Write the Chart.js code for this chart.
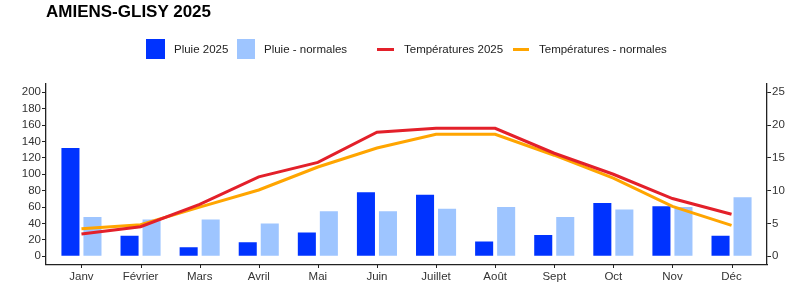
<!DOCTYPE html>
<html>
<head>
<meta charset="utf-8">
<script src="https://cdn.jsdelivr.net/npm/chart.js@4.4.1/dist/chart.umd.min.js"></script>
<style>
  html, body { margin: 0; padding: 0; background: #fff; }
  #wrap { position: relative; width: 800px; height: 286px; font-family: "Liberation Sans", Arial, sans-serif; }
  #title { position: absolute; left: 46px; top: 2px; font-size: 17px; font-weight: bold; color: #000; white-space: nowrap; }
  .lg { position: absolute; font-size: 11.5px; color: #222; white-space: nowrap; top: 42px; line-height: 14px; }
  .sw { position: absolute; }
  canvas { position: absolute; left: 0; top: 0; }
</style>
</head>
<body>
<div id="wrap">
  <canvas id="c" width="800" height="286"></canvas>
  <div id="title">AMIENS-GLISY 2025</div>
  <div class="sw" style="left:146px;top:39px;width:19px;height:20px;background:#0033FF;"></div>
  <div class="lg" style="left:174px;">Pluie 2025</div>
  <div class="sw" style="left:237px;top:39px;width:18px;height:20px;background:#9EC5FF;"></div>
  <div class="lg" style="left:264px;">Pluie - normales</div>
  <div class="sw" style="left:377px;top:47.5px;width:17px;height:3px;background:#E3202A;"></div>
  <div class="lg" style="left:404px;">Températures 2025</div>
  <div class="sw" style="left:513px;top:47.5px;width:16px;height:3px;background:#FFA500;"></div>
  <div class="lg" style="left:539px;">Températures - normales</div>
</div>
<script>
const months = ["Janv", "Février", "Mars", "Avril", "Mai", "Juin", "Juillet", "Août", "Sept", "Oct", "Nov", "Déc"];
const rain2025 = [132, 25, 11, 17, 29, 78, 75, 18, 26, 65, 61, 25];
const rainNormal = [48, 45, 45, 40, 55, 55, 58, 60, 48, 57, 60, 72];
const temp2025 = [3.4, 4.5, 7.9, 12.1, 14.3, 18.9, 19.5, 19.5, 15.7, 12.5, 8.8, 6.4];
const tempNormal = [4.2, 4.8, 7.5, 10.1, 13.6, 16.5, 18.6, 18.6, 15.4, 11.9, 7.6, 4.7];
const leftTicks = [0, 20, 40, 60, 80, 100, 120, 140, 160, 180, 200];
const rightTicks = [0, 5, 10, 15, 20, 25];

const pts = arr => arr.map((v, i) => ({ x: i, y: v }));
const tickFont = { family: "Liberation Sans", size: 11.5 };
const tickColor = "#333";

const xTickMarks = {
  id: "xTickMarks",
  afterDraw(chart) {
    const s = chart.scales.x, ctx = chart.ctx, y0 = chart.chartArea.bottom;
    ctx.save();
    ctx.strokeStyle = "#222";
    ctx.lineWidth = 1;
    months.forEach((m, i) => {
      const px = Math.round(s.getPixelForValue(i)) + 0.5;
      ctx.beginPath();
      ctx.moveTo(px, y0);
      ctx.lineTo(px, y0 + 3.5);
      ctx.stroke();
    });
    ctx.restore();
  }
};

new Chart(document.getElementById("c"), {
  type: "bar",
  data: {
    datasets: [
      { type: "line", label: "Températures 2025", data: pts(temp2025), yAxisID: "y2",
        borderColor: "#E3202A", borderWidth: 3, pointRadius: 0, tension: 0, order: 0 },
      { type: "line", label: "Températures - normales", data: pts(tempNormal), yAxisID: "y2",
        borderColor: "#FFA500", borderWidth: 3, pointRadius: 0, tension: 0, order: 1 },
      { label: "Pluie 2025", data: pts(rain2025), yAxisID: "y", backgroundColor: "#0033FF",
        categoryPercentage: 0.745, barPercentage: 0.82, order: 2 },
      { label: "Pluie - normales", data: pts(rainNormal), yAxisID: "y", backgroundColor: "#9EC5FF",
        categoryPercentage: 0.745, barPercentage: 0.82, order: 2 }
    ]
  },
  plugins: [xTickMarks],
  options: {
    responsive: false,
    animation: false,
    layout: { padding: { top: 84, left: 0, right: 0, bottom: 0 } },
    plugins: { legend: { display: false }, tooltip: { enabled: false } },
    scales: {
      x: {
        type: "linear", min: -0.6, max: 11.6, offset: false,
        afterBuildTicks: s => { s.ticks = months.map((m, i) => ({ value: i })); },
        afterFit: s => { s.height = 21.5; },
        ticks: { autoSkip: false, maxRotation: 0, padding: 5, color: tickColor, font: tickFont,
          callback: v => months[v] },
        grid: { display: true, drawOnChartArea: false, drawTicks: false, color: "rgba(0,0,0,0)" },
        border: { display: true, color: "#222", width: 1.3 }
      },
      y: {
        position: "left", min: -10, max: 210,
        afterBuildTicks: s => { s.ticks = leftTicks.map(v => ({ value: v })); },
        afterFit: s => { s.width = 46; },
        ticks: { padding: 1, color: tickColor, font: tickFont },
        grid: { drawOnChartArea: false, drawTicks: true, tickLength: 4, color: "#222", lineWidth: 1 },
        border: { display: true, color: "#222", width: 1.3 }
      },
      y2: {
        position: "right", min: -1.25, max: 26.25,
        afterBuildTicks: s => { s.ticks = rightTicks.map(v => ({ value: v })); },
        afterFit: s => { s.width = 33; },
        ticks: { padding: 1, color: tickColor, font: tickFont },
        grid: { drawOnChartArea: false, drawTicks: true, tickLength: 4, color: "#222", lineWidth: 1 },
        border: { display: true, color: "#222", width: 1.3 }
      }
    }
  }
});
</script>
</body>
</html>
